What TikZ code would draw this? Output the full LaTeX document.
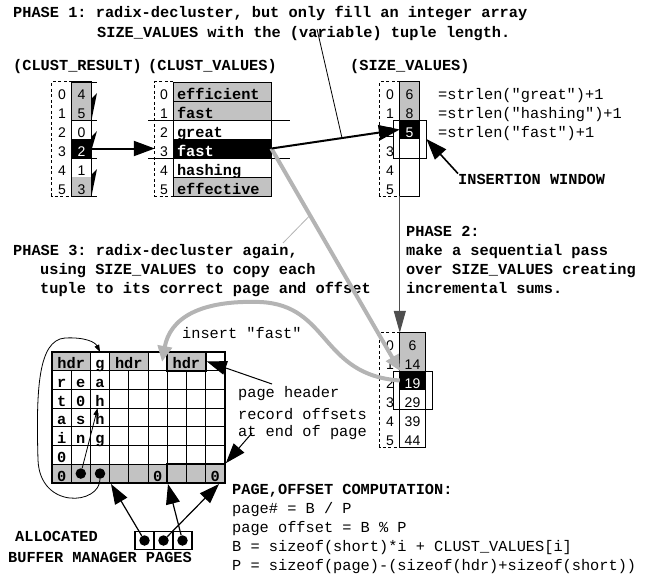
\documentclass[tikz,border=0pt]{standalone}
\usepackage{fontspec}
\setmonofont{Liberation Mono}
\setsansfont{Liberation Sans}
\usetikzlibrary{arrows.meta}
\definecolor{cellgray}{HTML}{C2C2C2}
\definecolor{flowgray}{HTML}{B4B4B4}
\definecolor{darkflow}{HTML}{4E4E4E}
\newcommand{\codefont}{\fontsize{15.3}{19}\selectfont\ttfamily}
\newcommand{\numfont}{\fontsize{14}{17}\selectfont\sffamily}

\begin{document}
\begin{tikzpicture}[x=1pt,y=-1pt,
  txt/.style={anchor=base west,inner sep=0pt,font=\codefont},
  btxt/.style={txt,font=\codefont\bfseries},
  cell/.style={minimum width=19pt,minimum height=19pt,inner sep=0pt,
               text height=15pt,text depth=0pt,font=\numfont},
  wcell/.style={cell,draw,line width=0.8pt,text width=90pt,align=left,
                inner xsep=4pt,font=\codefont\bfseries},
  pcell/.style={cell,minimum width=19.2pt,minimum height=18.7pt,
                font=\codefont\bfseries},
  hcell/.style={pcell,minimum width=38.4pt,fill=cellgray},
  dot/.style={circle,fill=black,minimum size=10.5pt,inner sep=0pt},
  idx/.style={line width=0.8pt,dash pattern=on 3pt off 2.5pt},
  rule/.style={line width=0.8pt},
  blk/.style={line width=2pt,-{Triangle[length=21pt,width=15pt]}},
  pointer/.style={line width=1pt,-{Triangle[length=20pt,width=14pt]}},
  tiny/.style={line width=0.8pt,-{Triangle[length=7pt,width=5pt]}},
  flow/.style={flowgray,line width=4pt,-{Triangle[length=16pt,width=14pt]}}
]
\useasboundingbox (0,0) rectangle (650,576);

% ---- Phase 1 ------------------------------------------------
\node[btxt] (ph1a) at (13,17) {PHASE 1: radix-decluster, but only fill an integer array};
\node[btxt] (ph1b) at (97,37) {SIZE\_VALUES with the (variable) tuple length.};
\coordinate (varpt) at (317,29);

\node[btxt] (tres) at (13,70) {(CLUST\_RESULT)};
\node[btxt] (tval) at (148,70) {(CLUST\_VALUES)};
\node[btxt] (tsiz) at (350,70) {(SIZE\_VALUES)};

% ---- CLUST_RESULT -------------------------------------------
\foreach \v/\f/\c [count=\r from 0] in {4/cellgray/black,5/cellgray/black,0/white/black,2/black/white,1/white/black,3/cellgray/black}{
  \node[cell,fill=\f,text=\c] (cr\r) at (81.5,{91.5+19*\r}) {\v};
  \node[cell,minimum width=20pt] (cri\r) at (62,{91.5+19*\r}) {\r};
}
\draw[rule] (cr0.north west) rectangle (cr5.south east);
\foreach \y in {82,120,158,196} \draw[rule] (72,\y) -- (97,\y);
\draw[idx] (cri0.north east) -- (cri0.north west) -- (cri5.south west) -- (cri5.south east);
\fill (97,93) -- (91,99) -- (91.5,120) -- cycle;
\fill (97,131) -- (91,137) -- (91.5,150) -- cycle;
\fill (97,169) -- (91,175) -- (91.5,196) -- cycle;

% ---- CLUST_VALUES -------------------------------------------
\foreach \v/\f/\c [count=\r from 0] in {efficient/cellgray/black,fast/cellgray/black,great/white/black,fast/black/white,hashing/white/black,effective/cellgray/black}{
  \node[wcell,fill=\f,text=\c] (cv\r) at (222,{91.5+19*\r}) {\v};
  \node[cell,minimum width=18pt] (cvi\r) at (164,{91.5+19*\r}) {\r};
}
\draw[rule] (148,120) -- (290,120);
\draw[rule] (148,158) -- (290,158);
\draw[idx] (cvi0.north east) -- (cvi0.north west) -- (cvi5.south west) -- (cvi5.south east);

% ---- SIZE_VALUES --------------------------------------------
\foreach \v/\f/\c [count=\r from 0] in {6/cellgray/black,8/cellgray/black,5/black/white,{}/white/black,{}/white/black,{}/white/black}{
  \node[cell,fill=\f,text=\c] (sv\r) at (409.5,{91.5+19*\r}) {\v};
  \node[cell,minimum width=20pt] (svi\r) at (390,{91.5+19*\r}) {\r};
}
\draw[rule] (sv0.north west) rectangle (sv5.south east);
\draw[idx] (svi0.north east) -- (svi0.north west) -- (svi5.south west) -- (svi5.south east);
\node[draw,rule,minimum width=33pt,minimum height=38pt,inner sep=0pt] (win1) at (409.5,139) {};

\node[txt] (len0) at (438,99) {=strlen("great")+1};
\node[txt] (len1) at (438,118) {=strlen("hashing")+1};
\node[txt] (len2) at (438,137) {=strlen("fast")+1};
\node[btxt] (iwtxt) at (458,184) {INSERTION WINDOW};

% ---- Phase 2 ------------------------------------------------
\node[btxt] (ph2a) at (406,236) {PHASE 2:};
\node[btxt] (ph2b) at (406,255) {make a sequential pass};
\node[btxt] (ph2c) at (406,274) {over SIZE\_VALUES creating};
\node[btxt] (ph2d) at (406,293) {incremental sums.};

\foreach \v/\f/\c [count=\r from 0] in {6/cellgray/black,14/cellgray/black,19/black/white,29/white/black,39/white/black,44/white/black}{
  \node[cell,minimum width=25pt,fill=\f,text=\c] (ps\r) at (412.5,{342.5+19*\r}) {\v};
  \node[cell,minimum width=20pt] (psi\r) at (390,{342.5+19*\r}) {\r};
}
\draw[rule] (ps0.north west) rectangle (ps5.south east);
\draw[idx] (psi0.north east) -- (psi0.north west) -- (psi5.south west) -- (psi5.south east);
\node[draw,rule,minimum width=39pt,minimum height=38pt,inner sep=0pt] (win2) at (412.5,390) {};

% ---- Phase 3 ------------------------------------------------
\node[btxt] (ph3a) at (13,255) {PHASE 3: radix-decluster again,};
\node[btxt] (ph3b) at (40,274) {using SIZE\_VALUES to copy each};
\node[btxt] (ph3c) at (40,293) {tuple to its correct page and offset};
\coordinate (againpt) at (283,243);

\node[txt] (instxt) at (182,338) {insert "fast"};
\coordinate (ins) at (162,362);

% ---- buffer pages (9 x 7 grid) ------------------------------
\fill[cellgray] (52,464.2) rectangle (224.8,482.9);
\node[hcell] (h0) at (71.2,361.35) {hdr};
\node[pcell] (p02) at (100,361.35) {g};
\node[hcell] (h3) at (128.8,361.35) {hdr};
\foreach \k in {1,...,8} \draw[rule] ({52+19.2*\k},370.7) -- ({52+19.2*\k},482.9);
\foreach \k in {2,3,5,6} \draw[rule] ({52+19.2*\k},352) -- ({52+19.2*\k},370.7);
\foreach \r in {1,...,6} \draw[rule] (52,{352+18.7*\r}) -- (224.8,{352+18.7*\r});
\draw[line width=1.6pt] (52,352) rectangle (224.8,482.9);
\draw[line width=1.6pt] (109.6,464.2) -- (109.6,482.9);
\node[hcell,draw,line width=2.2pt] (h6) at (186.4,361.35) {hdr};
\node[draw,line width=2.2pt,minimum width=57.6pt,minimum height=18.7pt,inner sep=0pt] (f3) at (196,473.55) {};

\foreach \t/\r/\c in {r/1/0,e/1/1,a/1/2,t/2/0,0/2/1,h/2/2,a/3/0,s/3/1,h/3/2,i/4/0,n/4/1,g/4/2,0/5/0}
  \node[pcell] (p\r\c) at ({61.6+19.2*\c},{361.35+18.7*\r}) {\t};
\node[pcell] (f0) at (61.6,473.55) {0};
\node[pcell] (f5) at (157.6,473.55) {0};
\node[pcell] (f8) at (215.2,473.55) {0};
\node[dot] (d1) at (80.8,473.55) {};
\node[dot] (d2) at (100,473.55) {};

\node[txt] (phdr) at (238,397) {page header};
\node[txt] (rec1) at (238,419) {record offsets};
\node[txt] (rec2) at (238,436) {at end of page};
\coordinate (phstart) at (272,384);
\coordinate (recstart) at (252,433);

% ---- allocated pages ----------------------------------------
\foreach \c in {0,1,2}{
  \node[cell,draw,line width=1.2pt,minimum height=18pt] (b\c) at ({144.5+19*\c},540.5) {};
  \node[dot] (bd\c) at (b\c) {};
}
\coordinate (pg2) at (111,484);
\coordinate (pg3) at (168,484);
\coordinate (pg3e) at (219,484);
\node[btxt] (alloc1) at (15,541) {ALLOCATED};
\node[btxt] (alloc2) at (8,562) {BUFFER MANAGER PAGES};

% ---- page/offset computation --------------------------------
\node[btxt] (cmp0) at (232,494) {PAGE,OFFSET COMPUTATION:};
\node[txt] (cmp1) at (232,513) {page\# = B / P};
\node[txt] (cmp2) at (232,532) {page offset = B \% P};
\node[txt] (cmp3) at (232,551) {B = sizeof(short)*i + CLUST\_VALUES[i]};
\node[txt] (cmp4) at (232,570) {P = sizeof(page)-(sizeof(hdr)+sizeof(short))};

% ---- connectors ---------------------------------------------
\draw[flow] (cv3.east) -- coordinate[pos=0.3] (gmid) (psi1.south east);
\draw[flowgray,line width=0.8pt] (againpt) -- (gmid);
\draw[flow] (ps2.west) .. controls (320,375) and (330,305) .. (260,302)
  .. controls (200,300) and (170,318) .. (ins);
\draw[blk] (cr3.east) -- (cvi3.west);
\draw[blk] (cv3.east) -- coordinate[pos=0.55] (bmid) (sv2.west);
\draw[line width=0.8pt] (varpt) -- (bmid);
\draw[blk,line width=1.6pt] (iwtxt.north west) -- (win1.east);
\draw[darkflow,line width=1pt,-{Triangle[length=22pt,width=12pt]}] (sv5.south west) -- (ps0.north west);
\draw[pointer] (phstart) -- (h6.east);
\draw[pointer] (recstart) -- (f3.north east);
\draw[tiny] (d1) -- (p22);
\draw[tiny] (d2.south) .. controls (100,505) and (40,510) .. (38,460)
  .. controls (36,390) and (38,340) .. (65,338)
  .. controls (85,337) and (95,342) .. (p02.north);
\draw[pointer,line width=1.2pt] (bd0) -- (pg2);
\draw[pointer,line width=1.2pt] (bd2) -- (pg3);
\draw[pointer,line width=1.2pt] (bd1) -- (pg3e);

\end{tikzpicture}
\end{document}
